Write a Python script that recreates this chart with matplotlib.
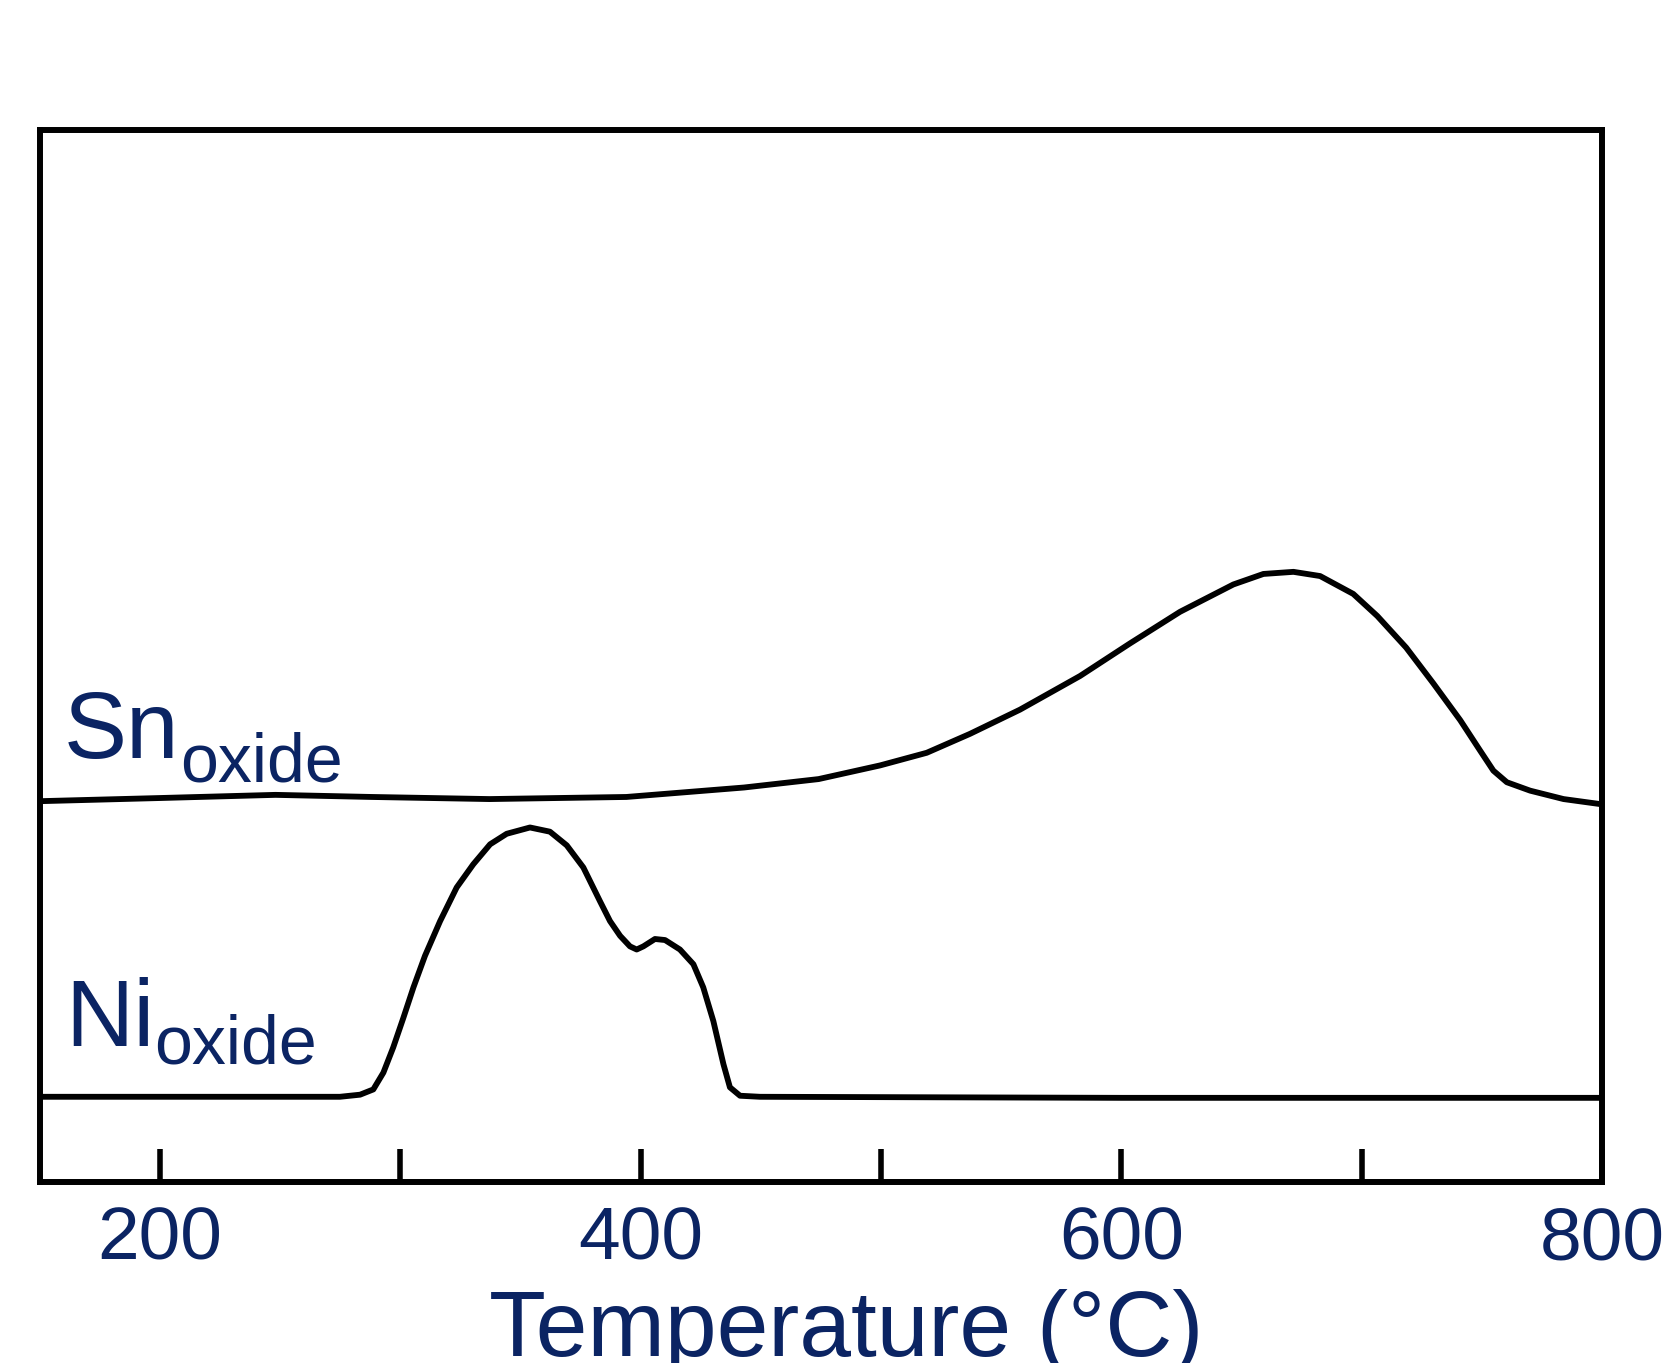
import matplotlib.pyplot as plt

# -------------- Data --------------
ni_temp = [150, 220, 274.8, 283.2, 288.7, 292.9, 297.0, 301.2, 305.4, 310.2, 316.5, 323.4,
           330.3, 337.3, 344.2, 353.9, 362.2, 369.2, 376.1, 383.0, 387.2, 391.4, 395.5,
           398.3, 401.1, 405.9, 410.1, 416.3, 421.9, 426.0, 430.2, 434.4, 437.1, 441.3,
           449.6, 600, 800]
ni_signal = [8.1, 8.1, 8.1, 8.3, 8.8, 10.4, 12.8, 15.6, 18.5, 21.5, 24.8, 28.0,
             30.2, 32.1, 33.1, 33.7, 33.3, 32.0, 29.9, 26.7, 24.8, 23.4, 22.4,
             22.1, 22.4, 23.1, 23.0, 22.1, 20.7, 18.5, 15.3, 11.2, 9.0, 8.2,
             8.1, 8.0, 8.0]

sn_temp = [150, 200, 248, 288, 337, 394, 443, 474, 499.6, 519.0, 537.0, 557.8, 582.8,
           603.6, 624.4, 646.6, 659.1, 671.6, 682.7, 696.5, 706.5, 718.5, 729.8,
           741.0, 749.3, 754.8, 760.4, 770.1, 784.0, 800]
sn_signal = [36.2, 36.5, 36.8, 36.6, 36.4, 36.6, 37.5, 38.3, 39.6, 40.8, 42.6, 44.9, 48.1,
             51.2, 54.2, 56.8, 57.8, 58.0, 57.6, 55.9, 53.8, 50.8, 47.4,
             43.9, 41.0, 39.1, 38.0, 37.2, 36.4, 35.9]

tick_pos = [200, 300, 400, 500, 600, 700, 800]
tick_labels = ['200', '', '400', '', '600', '', '800']

navy = '#0b2463'
W, H = 1668, 1363   # figure size in pixels (dpi 100)

# -------------- Figure --------------
fig = plt.figure(figsize=(W / 100, H / 100), dpi=100)
ax = fig.add_axes([40 / W, 1 - 1182 / H, 1562 / W, 1052 / H])

for t, s in [(sn_temp, sn_signal), (ni_temp, ni_signal)]:
    ax.plot(t, s, color='black', lw=4.2, solid_joinstyle='round', solid_capstyle='round')

ax.set_xlim(150, 800)
ax.set_ylim(0, 100)
ax.set_yticks([])
ax.set_xticks(tick_pos)
ax.set_xticklabels(tick_labels, family='Liberation Sans', fontsize=54, color=navy)
ax.tick_params(axis='x', direction='in', length=24, width=4, pad=17)
for s in ax.spines.values():
    s.set_linewidth(4.3)

# curve labels, placed by baseline in pixel positions
def label(main, x_main, y_main, x_sub, y_sub):
    fig.text(x_main / W, 1 - y_main / H, main, fontsize=68, color=navy,
             family='Liberation Sans', va='baseline')
    fig.text(x_sub / W, 1 - y_sub / H, 'oxide', fontsize=49, color=navy,
             family='Liberation Sans', va='baseline')

label('Sn', 64, 758, 180, 781)
label('Ni', 65, 1046, 154, 1064)

fig.text(489 / W, 1 - 1356 / H, 'Temperature (°C)', ha='left', va='baseline',
         fontsize=67, color=navy, family='Liberation Sans')

fig.savefig('out.png', dpi=100)
